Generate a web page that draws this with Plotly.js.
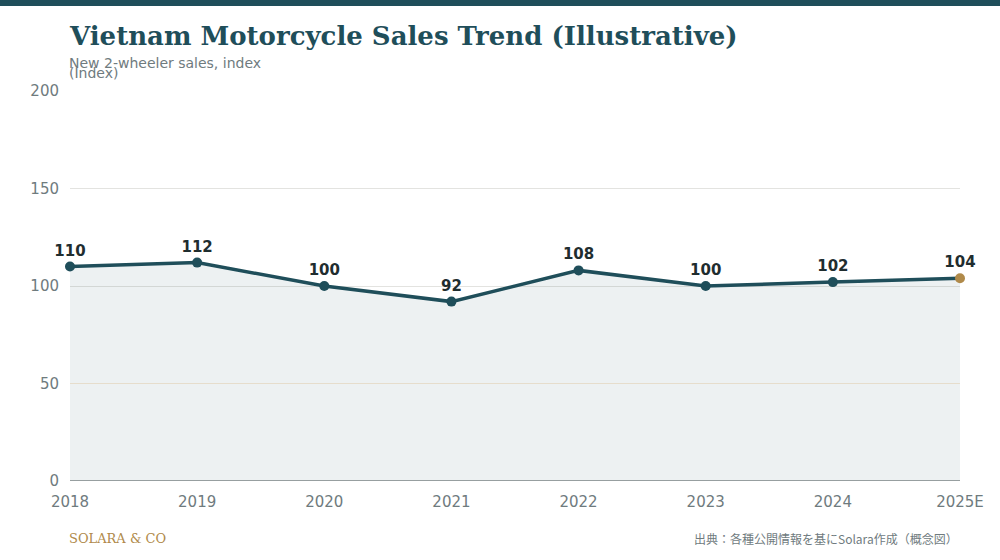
<!DOCTYPE html>
<html>
<head>
<meta charset="utf-8">
<script src="https://cdn.plot.ly/plotly-3.0.1.min.js"></script>
<style>
  html, body { margin: 0; padding: 0; background: #ffffff; }
  #topbar { position: absolute; left: 0; top: 0; width: 1000px; height: 6px; background: #1f4e5a; z-index: 10; }
  #chart { width: 1000px; height: 560px; }
</style>
</head>
<body>
<div id="topbar"></div>
<div id="chart"></div>
<script>
  // Data
  var years = ['2018', '2019', '2020', '2021', '2022', '2023', '2024', '2025E'];
  var salesIndex = [110, 112, 100, 92, 108, 100, 102, 104];

  var teal = '#1f4e5a';
  var gold = '#b08a4a';
  var grey = '#6f7b7e';
  var sans = '"DejaVu Sans", "Noto Sans", sans-serif';
  var serif = '"DejaVu Serif", "Liberation Serif", serif';

  var markerColors = years.map(function (y, i) {
    return i === years.length - 1 ? gold : teal;
  });

  var traces = [
    {
      x: years,
      y: salesIndex,
      type: 'scatter',
      mode: 'lines',
      fill: 'tozeroy',
      fillcolor: 'rgba(31, 78, 90, 0.08)',
      line: { color: 'rgba(0,0,0,0)', width: 0 },
      hoverinfo: 'skip'
    },
    {
      x: years,
      y: salesIndex,
      type: 'scatter',
      mode: 'lines+markers+text',
      line: { color: teal, width: 3.5 },
      marker: { color: markerColors, size: 10 },
      text: salesIndex.map(String),
      textposition: 'top center',
      textfont: { family: sans, size: 15, color: '#1f2d2f', weight: 'bold' },
      cliponaxis: false
    }
  ];

  var layout = {
    width: 1000,
    height: 560,
    paper_bgcolor: '#ffffff',
    plot_bgcolor: '#ffffff',
    margin: { t: 91, r: 40, b: 79, l: 70 },
    showlegend: false,
    title: {
      text: '<b>Vietnam Motorcycle Sales Trend (Illustrative)</b>',
      font: { family: serif, size: 26, color: teal },
      x: 70 / 1000, xanchor: 'left', xref: 'container',
      y: 1 - 36 / 560, yanchor: 'middle', yref: 'container'
    },
    xaxis: {
      type: 'category',
      range: [0, years.length - 1],
      showgrid: false,
      zeroline: false,
      showline: false,
      ticks: '',
      ticklabelstandoff: 10,
      tickfont: { family: sans, size: 15, color: grey }
    },
    yaxis: {
      range: [0, 200],
      tickvals: [0, 50, 100, 150, 200],
      showgrid: true,
      gridcolor: '#e3e3e0',
      zeroline: false,
      showline: false,
      ticks: '',
      ticklabelstandoff: 10,
      tickfont: { family: sans, size: 15, color: grey }
    },
    shapes: [
      { type: 'line', xref: 'paper', yref: 'y', x0: 0, x1: 1, y0: 0, y1: 0,
        line: { color: '#7a8385', width: 1.5 } },
      { type: 'line', xref: 'paper', yref: 'y', x0: 0, x1: 1, y0: 50, y1: 50,
        line: { color: '#e6ddcc', width: 1 } }
    ],
    annotations: [
      { text: 'New 2-wheeler sales, index', xref: 'paper', yref: 'paper',
        x: 0, y: 1, xanchor: 'left', yanchor: 'bottom', xshift: -3, yshift: 18, showarrow: false,
        font: { family: sans, size: 14, color: grey } },
      { text: '(Index)', xref: 'paper', yref: 'paper',
        x: 0, y: 1, xanchor: 'left', yanchor: 'bottom', xshift: -3, yshift: 8, showarrow: false,
        font: { family: sans, size: 14, color: grey } },
      { text: 'SOLARA &amp; CO', xref: 'paper', yref: 'paper',
        x: 0, y: 0, xanchor: 'left', yanchor: 'middle', xshift: -3, yshift: -57, showarrow: false,
        font: { family: serif, size: 13, color: gold } },
      { text: '出典：各種公開情報を基にSolara作成（概念図）', xref: 'paper', yref: 'paper',
        x: 1, y: 0, xanchor: 'right', yanchor: 'middle', yshift: -57, showarrow: false,
        font: { family: '"Noto Sans CJK JP", sans-serif', size: 12, color: grey } }
    ]
  };

  Plotly.newPlot('chart', traces, layout, { displayModeBar: false, staticPlot: true });
</script>
</body>
</html>
